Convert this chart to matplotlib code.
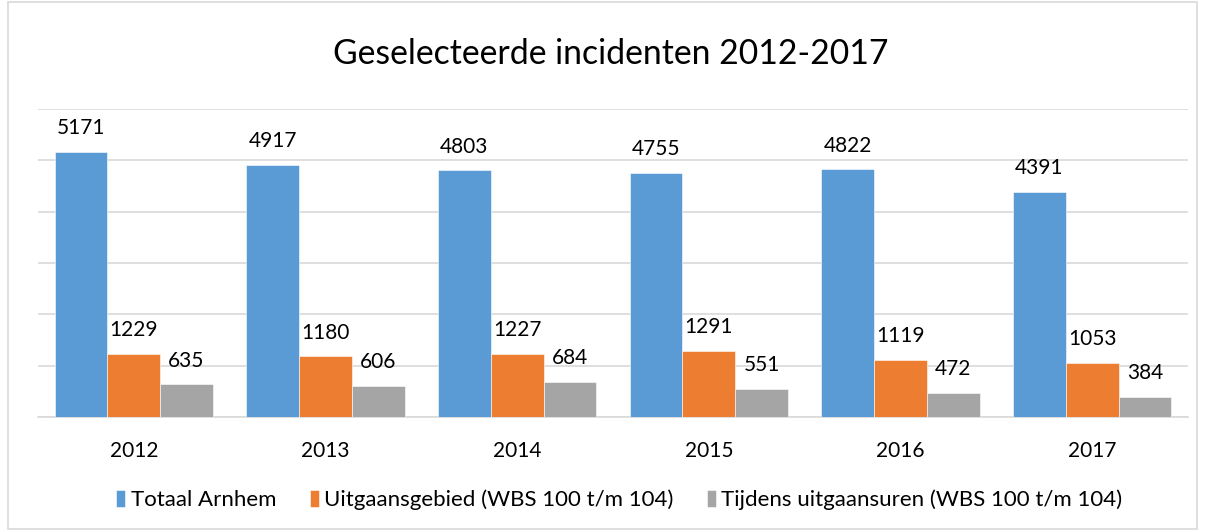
import matplotlib
matplotlib.use("Agg")
import matplotlib.pyplot as plt
import numpy as np
from matplotlib.patches import Rectangle

years = ["2012", "2013", "2014", "2015", "2016", "2017"]
series_names = ["Totaal Arnhem", "Uitgaansgebied (WBS 100 t/m 104)", "Tijdens uitgaansuren (WBS 100 t/m 104)"]
totaal = [5171, 4917, 4803, 4755, 4822, 4391]
uitgaansgebied = [1229, 1180, 1227, 1291, 1119, 1053]
uitgaansuren = [635, 606, 684, 551, 472, 384]
colors = ["#5B9BD5", "#ED7D31", "#A5A5A5"]

plt.rcParams['font.family'] = ['Lato', 'DejaVu Sans']

fig = plt.figure(figsize=(12.05, 5.30), dpi=100)
ax = fig.add_axes([38/1205, 1-417/530, (1188-38)/1205, (417-109)/530])

x = np.arange(len(years))
w = 0.275
for i, (vals, c, name) in enumerate(zip([totaal, uitgaansgebied, uitgaansuren], colors, series_names)):
    pos = x + (i - 1) * w
    bars = ax.bar(pos, vals, width=w, color=c, label=name, edgecolor='white', linewidth=0.4, zorder=3)
    for b, v in zip(bars, vals):
        ax.annotate(str(v), (b.get_x() + b.get_width()/2, v), xytext=(0, 10),
                    textcoords='offset points', ha='center', va='bottom', fontsize=15, color='#000000')

ax.set_xlim(-0.5, len(years) - 0.5)
ax.set_ylim(0, 6000)
ax.set_yticks(np.arange(0, 6001, 1000))
ax.yaxis.grid(True, color='#D9D9D9', linewidth=1.2, zorder=0)
ax.set_axisbelow(True)
ax.tick_params(axis='y', left=False, labelleft=False)
ax.tick_params(axis='x', bottom=False, labelsize=15, pad=14)
ax.set_xticks(x)
ax.set_xticklabels(years)
for s in ['top', 'right', 'left']:
    ax.spines[s].set_visible(False)
ax.spines['bottom'].set_color('#D9D9D9')
ax.spines['bottom'].set_linewidth(1.2)

fig.text(611/1205, 1-54/530, "Geselecteerde incidenten 2012-2017", ha='center', va='center', fontsize=24.3)

leg = fig.legend(loc='center', bbox_to_anchor=(0.514, 1-500/530), ncol=3, frameon=False,
                 fontsize=16, handlelength=0.4, handleheight=0.8, handletextpad=0.25, columnspacing=1.5)

fig.patches.append(Rectangle((8/1205, 0.002), 1-16/1205, 0.995, transform=fig.transFigure,
                             fill=False, edgecolor='#D9D9D9', linewidth=1.2))

fig.savefig("out.png", dpi=100)
